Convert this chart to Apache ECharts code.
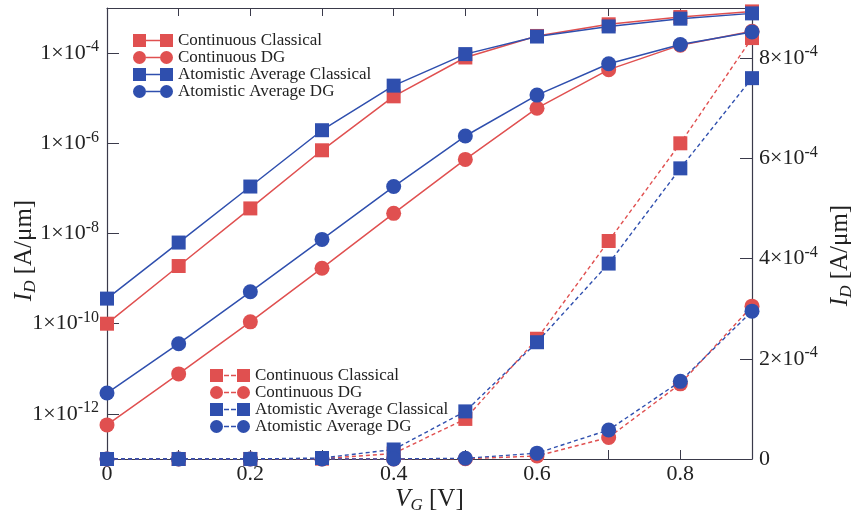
<!DOCTYPE html>
<html><head><meta charset="utf-8">
<script src="https://cdn.jsdelivr.net/npm/echarts@6/dist/echarts.min.js"></script>
<style>html,body{margin:0;padding:0;background:#fff}#c{width:851px;height:517px}</style>
</head><body><div id="c"></div>
<script>
// ---- data ----
const vg = [0, 0.1, 0.2, 0.3, 0.4, 0.5, 0.6, 0.7, 0.8, 0.9];
const contClassical = [1.0e-10, 1.9e-9, 3.6e-8, 7.0e-7, 1.1e-5, 8.0e-5, 2.4e-4, 4.35e-4, 6.3e-4, 8.4e-4];
const contDG        = [5.7e-13, 7.7e-12, 1.1e-10, 1.7e-9, 2.8e-8, 4.4e-7, 6.0e-6, 4.3e-5, 1.5e-4, 3.05e-4];
const atomClassical = [3.6e-10, 6.3e-9, 1.1e-7, 1.95e-6, 1.9e-5, 9.5e-5, 2.33e-4, 3.9e-4, 5.8e-4, 7.6e-4];
const atomDG        = [2.9e-12, 3.6e-11, 5.1e-10, 7.4e-9, 1.1e-7, 1.45e-6, 1.17e-5, 5.8e-5, 1.55e-4, 2.95e-4];
const seriesNames = ['Continuous Classical', 'Continuous DG', 'Atomistic Average Classical', 'Atomistic Average DG'];
const leftTickExp = [-12, -10, -8, -6, -4];
const rightTickVals = [0, 2e-4, 4e-4, 6e-4, 8e-4];
const xTickLabels = [0, 0.2, 0.4, 0.6, 0.8];

const RED = '#e05050', BLUE = '#2f4fae';
const FONT = 'Liberation Serif';
const AX = '#3a3a4a';
const seriesData = [contClassical, contDG, atomClassical, atomDG];
const colors = [RED, RED, BLUE, BLUE];
const symbols = ['rect', 'circle', 'rect', 'circle'];
const sizes = [14, 15, 14, 15];

const sq = 'M0,0h13v13h-13z', sq2 = 'M27,0h13v13h-13z';
const ci = 'M0,6.5a6.5,6.5 0 1,0 13,0a6.5,6.5 0 1,0 -13,0z', ci2 = 'M27,6.5a6.5,6.5 0 1,0 13,0a6.5,6.5 0 1,0 -13,0z';
const solidLine = 'M13,5.8h14v1.4h-14z';
const dashLine = 'M14,5.8h5v1.4h-5z M21,5.8h5v1.4h-5z';
function icon(i, dashed) {
  const a = symbols[i] === 'rect' ? sq : ci, b = symbols[i] === 'rect' ? sq2 : ci2;
  return 'path://' + a + ' ' + (dashed ? dashLine : solidLine) + ' ' + b;
}

const series = [];
seriesData.forEach((arr, i) => {
  series.push({
    name: seriesNames[i], type: 'line', xAxisIndex: 0, yAxisIndex: 0,
    data: vg.map((x, k) => [x, Math.log10(arr[k])]),
    symbol: symbols[i], symbolSize: sizes[i], showSymbol: true,
    lineStyle: {color: colors[i], width: 1.5}, itemStyle: {color: colors[i]},
    z: 2 + i
  });
});
seriesData.forEach((arr, i) => {
  series.push({
    name: seriesNames[i], type: 'line', xAxisIndex: 0, yAxisIndex: 1,
    data: vg.map((x, k) => [x, arr[k]]),
    symbol: symbols[i], symbolSize: sizes[i], showSymbol: true,
    lineStyle: {color: colors[i], width: 1.4, type: [4, 3]}, itemStyle: {color: colors[i]},
    z: 2 + i
  });
});

const richSup = {
  b: {fontFamily: FONT, fontSize: 22, color: '#222', lineHeight: 28},
  s: {fontFamily: FONT, fontSize: 16, color: '#222', lineHeight: 14, verticalAlign: 'top'}
};
const nameRich = {
  i: {fontFamily: FONT, fontSize: 25, fontStyle: 'italic', color: '#222', lineHeight: 30},
  d: {fontFamily: FONT, fontSize: 17, fontStyle: 'italic', color: '#222', lineHeight: 14, verticalAlign: 'bottom'},
  t: {fontFamily: FONT, fontSize: 25, color: '#222', lineHeight: 30}
};
const legendText = {fontFamily: FONT, fontSize: 17, color: '#222', lineHeight: 17};

const option = {
  backgroundColor: '#fff',
  animation: false,
  grid: {left: 107, right: 99, top: 8, bottom: 58, containLabel: false, outerBoundsMode: 'none'},
  legend: [
    {orient: 'vertical', left: 133, top: 32, padding: 0, itemWidth: 40, itemHeight: 13, itemGap: 0,
     textStyle: legendText,
     data: seriesNames.map((n, i) => ({name: n, icon: icon(i, false)}))},
    {orient: 'vertical', left: 210, top: 367, padding: 0, itemWidth: 40, itemHeight: 13, itemGap: 0,
     textStyle: legendText,
     data: seriesNames.map((n, i) => ({name: n, icon: icon(i, true)}))}
  ],
  xAxis: [
    {type: 'value', min: 0, max: 0.9, interval: 0.1, position: 'bottom',
     name: '{i|V}{d|G}{t| [V]}', nameLocation: 'middle', nameGap: 25, nameMoveOverlap: false,
     nameTextStyle: {rich: nameRich},
     axisLine: {show: true, onZero: false, lineStyle: {color: AX, width: 1.2}},
     axisTick: {show: true, inside: true, length: 9, lineStyle: {color: AX}},
     axisLabel: {fontFamily: FONT, fontSize: 22, color: '#222', margin: 4,
       formatter: v => { const r = Math.round(v * 10); return r % 2 === 0 ? (r === 0 ? '0' : (r / 10).toFixed(1)) : ''; }},
     splitLine: {show: false}},
    {type: 'value', min: 0, max: 0.9, interval: 0.1, position: 'top',
     axisLine: {show: true, onZero: false, lineStyle: {color: AX, width: 1.2}},
     axisTick: {show: true, inside: true, length: 8, lineStyle: {color: AX}},
     axisLabel: {show: false}, splitLine: {show: false}}
  ],
  yAxis: [
    {type: 'value', min: -13, max: -3, interval: 1, position: 'left',
     name: '{i|I}{d|D}{t| [A/μm]}', nameLocation: 'middle', nameGap: 68, nameRotate: 90, nameMoveOverlap: false,
     nameTextStyle: {rich: nameRich, padding: [0, 34, 0, 0]},
     axisLine: {show: true, onZero: false, lineStyle: {color: AX, width: 1.2}},
     axisTick: {show: true, inside: true, length: 12, customValues: leftTickExp, lineStyle: {color: AX}},
     minorTick: {show: false},
     axisLabel: {customValues: leftTickExp, margin: 8, rich: richSup,
       formatter: v => '{b|1×10}{s|' + Math.round(v) + '}'},
     splitLine: {show: false}},
    {type: 'value', min: 0, max: 9e-4, interval: 2e-4, position: 'right',
     name: '{i|I}{d|D}{t| [A/μm]}', nameLocation: 'middle', nameGap: 73, nameRotate: 90, nameMoveOverlap: false,
     nameTextStyle: {rich: nameRich, padding: [0, 44, 0, 0]},
     axisLine: {show: true, onZero: false, lineStyle: {color: AX, width: 1.2}},
     axisTick: {show: true, inside: true, length: 12, customValues: rightTickVals, lineStyle: {color: AX}},
     axisLabel: {customValues: rightTickVals, margin: 7, rich: richSup,
       formatter: v => { const n = Math.round(v * 1e4); return n === 0 ? '{b|0}' : '{b|' + n + '×10}{s|-4}'; }},
     splitLine: {show: false}}
  ],
  series: series
};
const chart = echarts.init(document.getElementById('c'), null, {renderer: 'canvas'});
chart.setOption(option);
</script>
</body></html>
